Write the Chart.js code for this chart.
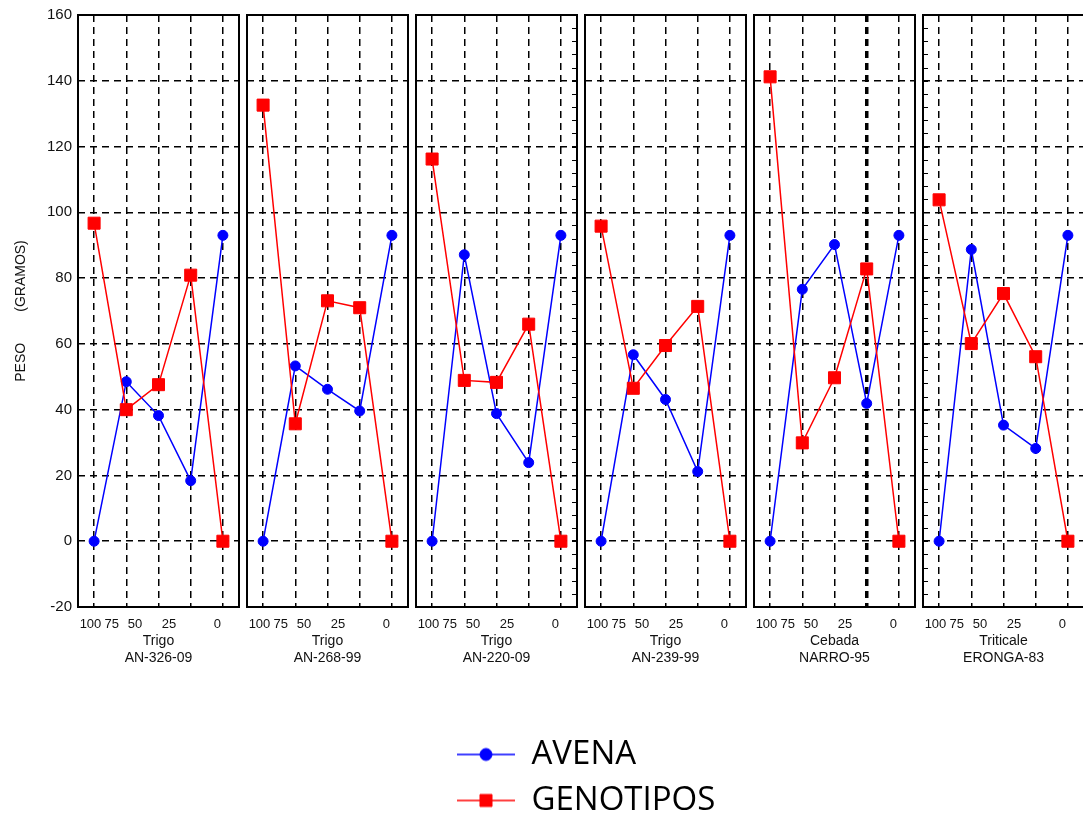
<!DOCTYPE html>
<html>
<head>
<meta charset="utf-8">
<title>Peso (gramos) por genotipo</title>
<script src="https://cdn.jsdelivr.net/npm/chart.js@4.4.1/dist/chart.umd.min.js"></script>
<style>
  html, body { margin: 0; padding: 0; background: #fff; overflow: hidden; width: 1083px; height: 818px; }
  .box { position: absolute; }
  .box canvas { display: block; }
</style>
</head>
<body>
<script>
// ---- data ----
const categories = ['100', '75', '50', '25', '0'];
const groupNames = ['Trigo', 'Trigo', 'Trigo', 'Trigo', 'Cebada', 'Triticale'];
const groupCodes = ['AN-326-09', 'AN-268-99', 'AN-220-09', 'AN-239-99', 'NARRO-95', 'ERONGA-83'];
const yTickValues = [-20, 0, 20, 40, 60, 80, 100, 120, 140, 160];

const avena = [
  [0, 48.5, 38.2, 18.4, 93],
  [0, 53.3, 46.2, 39.6, 93],
  [0, 87.1, 38.8, 23.9, 93],
  [0, 56.7, 43.1, 21.2, 93],
  [0, 76.6, 90.2, 41.9, 93],
  [0, 88.7, 35.3, 28.2, 93]
];
const genotipos = [
  [96.7, 40.0, 47.6, 80.9, 0],
  [132.6, 35.7, 73.1, 71.0, 0],
  [116.2, 48.9, 48.3, 66.0, 0],
  [95.8, 46.5, 59.5, 71.4, 0],
  [141.2, 29.9, 49.7, 82.8, 0],
  [103.8, 60.1, 75.3, 56.1, 0]
];

// ---- layout / style ----
const FIRST_LEFT = 78, PANEL_STEP = 169, PANEL_W = 161, AXIS_W = 78;
const PLOT_TOP = 15, PLOT_BOTTOM = 607, CANVAS_H = 680;
const BLUE = '#0000ff', RED = '#ff0000';
const TEXT = '#111';
const CLEAR = 'rgba(0,0,0,0)';
const tickPad = [2, 8, 13, 12, 3];          // nudges the x labels leftwards
const minorSides = { 2: 'right', 5: 'left' }; // panels with minor ticks on an inner edge

Chart.defaults.font.family = '"Liberation Sans", Arial, sans-serif';
Chart.defaults.animation = false;

const framePlugin = {
  id: 'frame',
  beforeDatasetsDraw(chart, args, opts) {
    const { ctx, chartArea: a } = chart;
    ctx.save();
    ctx.strokeStyle = '#000';
    ctx.lineWidth = 2;
    ctx.strokeRect(a.left, a.top, a.right - a.left, a.bottom - a.top);
    if (opts.minorSide) {
      const ys = chart.scales.y;
      const x0 = opts.minorSide === 'left' ? a.left : a.right;
      const dir = opts.minorSide === 'left' ? 1 : -1;
      ctx.lineWidth = 1;
      ctx.beginPath();
      for (let v = ys.min; v <= ys.max; v += opts.minorStep) {
        const py = Math.round(ys.getPixelForValue(v)) + 0.5;
        ctx.moveTo(x0, py);
        ctx.lineTo(x0 + dir * 5, py);
      }
      ctx.stroke();
    }
    ctx.restore();
  }
};

function addCanvas(left, top, w, h) {
  const d = document.createElement('div');
  d.className = 'box';
  d.style.left = left + 'px';
  d.style.top = top + 'px';
  d.style.width = w + 'px';
  d.style.height = h + 'px';
  const c = document.createElement('canvas');
  d.appendChild(c);
  document.body.appendChild(d);
  return c;
}

function makePanel(i) {
  const first = i === 0;
  const plotLeft = FIRST_LEFT + i * PANEL_STEP;
  const boxLeft = first ? 0 : plotLeft - 2;
  const boxW = (first ? AXIS_W : 2) + PANEL_W + 2;
  const canvas = addCanvas(boxLeft, 0, boxW, CANVAS_H);

  new Chart(canvas, {
    type: 'line',
    data: {
      labels: categories,
      datasets: [
        {
          label: 'AVENA', data: avena[i], order: 1,
          borderColor: BLUE, backgroundColor: BLUE, borderWidth: 1.5,
          pointStyle: 'circle', pointRadius: 5, pointBorderWidth: 1,
          pointBackgroundColor: BLUE, pointBorderColor: BLUE, tension: 0
        },
        {
          label: 'GENOTIPOS', data: genotipos[i], order: 0,
          borderColor: RED, backgroundColor: RED, borderWidth: 1.5,
          pointStyle: 'rect', pointRadius: 8.5, pointBorderWidth: 1,
          pointBackgroundColor: RED, pointBorderColor: RED, tension: 0
        }
      ]
    },
    options: {
      responsive: true,
      maintainAspectRatio: false,
      events: [],
      layout: { autoPadding: false, padding: { top: PLOT_TOP, bottom: 0, left: first ? 0 : 2, right: 2 } },
      scales: {
        x: {
          type: 'category',
          offset: true,
          grid: {
            color: '#000',
            lineWidth: (ctx) => (i === 4 && ctx.index === 3) ? 3.5 : 1.5,
            drawTicks: true,
            tickLength: 10,
            tickColor: CLEAR,
            offset: false
          },
          border: { display: false, dash: [7, 5] },
          ticks: {
            color: TEXT, font: { size: 13 }, padding: 0,
            autoSkip: false, minRotation: 0, maxRotation: 0,
            callback: (v, idx) => categories[idx] + ' '.repeat(tickPad[idx])
          },
          title: {
            display: true,
            text: [groupNames[i], groupCodes[i]],
            color: TEXT,
            font: { size: 14, lineHeight: 1.2 },
            padding: { top: 0, bottom: 13.5 }
          },
          afterFit: (s) => { s.height = CANVAS_H - PLOT_BOTTOM; }
        },
        y: {
          type: 'linear',
          min: yTickValues[0],
          max: yTickValues[yTickValues.length - 1],
          afterBuildTicks: (s) => { s.ticks = yTickValues.map(v => ({ value: v })); },
          grid: { color: '#000', lineWidth: 1.5, drawTicks: first, tickLength: 6, tickColor: CLEAR },
          border: { display: false, dash: [7, 5] },
          ticks: { display: first, color: TEXT, font: { size: 15 }, padding: 0 },
          title: {
            display: first,
            text: 'PESO        (GRAMOS)',
            color: TEXT,
            font: { size: 14 },
            padding: { top: 13, bottom: 0 }
          },
          afterFit: (s) => { s.width = first ? AXIS_W : 0; }
        }
      },
      plugins: {
        legend: { display: false },
        tooltip: { enabled: false },
        frame: { minorSide: minorSides[i] || null, minorStep: 4 }
      }
    },
    plugins: [framePlugin]
  });
}

for (let i = 0; i < groupCodes.length; i++) makePanel(i);

// ---- shared legend ----
function legendSample(color, style, radius) {
  const c = document.createElement('canvas');
  c.width = 58; c.height = 18;
  const g = c.getContext('2d');
  g.strokeStyle = color;
  g.lineWidth = 1.6;
  g.beginPath(); g.moveTo(0, 9); g.lineTo(58, 9); g.stroke();
  g.fillStyle = color;
  g.lineWidth = 1;
  Chart.helpers.drawPoint(g, { pointStyle: style, radius: radius, borderWidth: 1 }, 29, 9);
  return c;
}
const legendStyles = [
  { color: BLUE, style: 'circle', radius: 6 },
  { color: RED, style: 'rect', radius: 8.5 }
];

const legendCanvas = addCanvas(444, 725, 300, 110);
new Chart(legendCanvas, {
  type: 'line',
  data: {
    labels: [],
    datasets: [
      { label: 'AVENA', data: [], borderColor: BLUE },
      { label: 'GENOTIPOS', data: [], borderColor: RED }
    ]
  },
  options: {
    responsive: true,
    maintainAspectRatio: false,
    events: [],
    layout: { padding: 0 },
    scales: { x: { display: false }, y: { display: false } },
    plugins: {
      tooltip: { enabled: false },
      legend: {
        display: true,
        position: 'top',
        align: 'start',
        maxHeight: 108,
        labels: {
          usePointStyle: true,
          pointStyleWidth: 58,
          padding: 13,
          color: '#000',
          font: { family: '"Open Sans", "Noto Sans", sans-serif', size: 33 },
          generateLabels: (chart) => chart.data.datasets.map((ds, k) => ({
            text: ds.label,
            pointStyle: legendSample(legendStyles[k].color, legendStyles[k].style, legendStyles[k].radius),
            fillStyle: legendStyles[k].color,
            strokeStyle: legendStyles[k].color,
            lineWidth: 0,
            fontColor: '#000',
            hidden: false,
            datasetIndex: k
          }))
        }
      }
    }
  }
});
</script>
</body>
</html>
